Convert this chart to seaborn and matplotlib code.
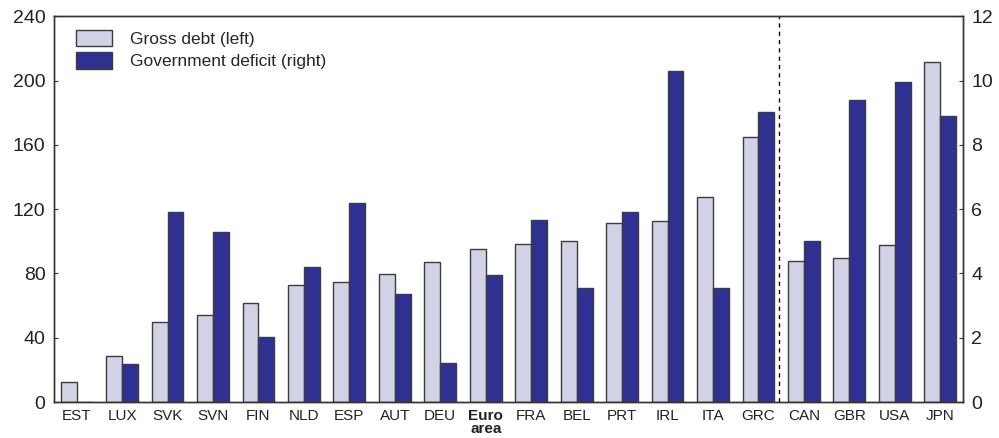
import numpy as np
import pandas as pd
import matplotlib
matplotlib.use("Agg")
import matplotlib.pyplot as plt
import matplotlib.patches as mpatches
import seaborn as sns

# Values
countries = ["EST", "LUX", "SVK", "SVN", "FIN", "NLD", "ESP", "AUT", "DEU", "Euro\narea",
             "FRA", "BEL", "PRT", "IRL", "ITA", "GRC", "CAN", "GBR", "USA", "JPN"]
gross_debt = [12.2, 28.4, 49.9, 53.9, 61.4, 72.6, 74.4, 79.8, 86.9, 95.1,
              98.5, 100.1, 111.5, 112.4, 127.5, 164.8, 87.7, 89.6, 97.8, 211.4]
deficit = [0.0, 1.17, 5.9, 5.28, 2.02, 4.21, 6.18, 3.35, 1.21, 3.95,
           5.66, 3.54, 5.9, 10.31, 3.54, 9.01, 5.0, 9.38, 9.94, 8.91]

debt_label = "Gross debt (left)"
def_label = "Government deficit (right)"
series_order = [debt_label, def_label]

light = "#D3D3E8"
dark = "#2E3192"
edge = "#3C3C3C"

sns.set_style("white")
plt.rcParams["font.family"] = ["Liberation Sans", "DejaVu Sans"]

# each axis gets both hue levels so seaborn dodges; the other series is left empty
blank = [np.nan] * len(countries)
df_debt = pd.DataFrame({"country": countries * 2, "value": gross_debt + blank,
                        "series": [debt_label] * len(countries) + [def_label] * len(countries)})
df_def = pd.DataFrame({"country": countries * 2, "value": blank + deficit,
                       "series": [debt_label] * len(countries) + [def_label] * len(countries)})

fig = plt.figure(figsize=(9.99, 4.38), dpi=100)
ax = fig.add_axes([0.054, 0.082, 0.910, 0.881])
ax2 = ax.twinx()

palette = {debt_label: light, def_label: dark}
for data, a in ((df_debt, ax), (df_def, ax2)):
    sns.barplot(data=data, x="country", y="value", hue="series", hue_order=series_order,
                order=countries, palette=palette, saturation=1, edgecolor=edge,
                linewidth=1.0, width=0.7, errorbar=None, legend=False, ax=a)

ax.set_xlim(-0.5, len(countries) - 0.5)
ax.set_ylim(0, 240)
ax2.set_ylim(0, 12)
ax.set_yticks(range(0, 241, 40))
ax2.set_yticks(range(0, 13, 2))
ax.set_xlabel("")
ax.set_ylabel("")
ax2.set_ylabel("")

# separator between euro area and other economies
ax.axvline(15.45, color="black", linestyle=(0, (3, 3)), linewidth=1.0)

for a in (ax, ax2):
    for s in a.spines.values():
        s.set_color("#333333")
        s.set_linewidth(1.0)
ax.tick_params(axis="y", direction="in", length=3, labelsize=14, colors="#333333",
               labelcolor="#222222", pad=6)
ax2.tick_params(axis="y", direction="in", length=3, labelsize=14, colors="#333333",
                labelcolor="#222222", pad=6)
ax.tick_params(axis="x", length=0, labelsize=11, labelcolor="#222222", pad=5)
for lbl in ax.get_xticklabels():
    if lbl.get_text().startswith("Euro"):
        lbl.set_fontweight("bold")
        lbl.set_linespacing(0.95)

handles = [mpatches.Patch(facecolor=light, edgecolor=edge, label=debt_label),
           mpatches.Patch(facecolor=dark, edgecolor=edge, label=def_label)]
ax.legend(handles=handles, loc="upper left", frameon=False, fontsize=12.5,
          handlelength=2.1, handleheight=1.05, handletextpad=1.0, labelspacing=0.3,
          bbox_to_anchor=(0.007, 1.004))

fig.savefig("out.png", dpi=100)
